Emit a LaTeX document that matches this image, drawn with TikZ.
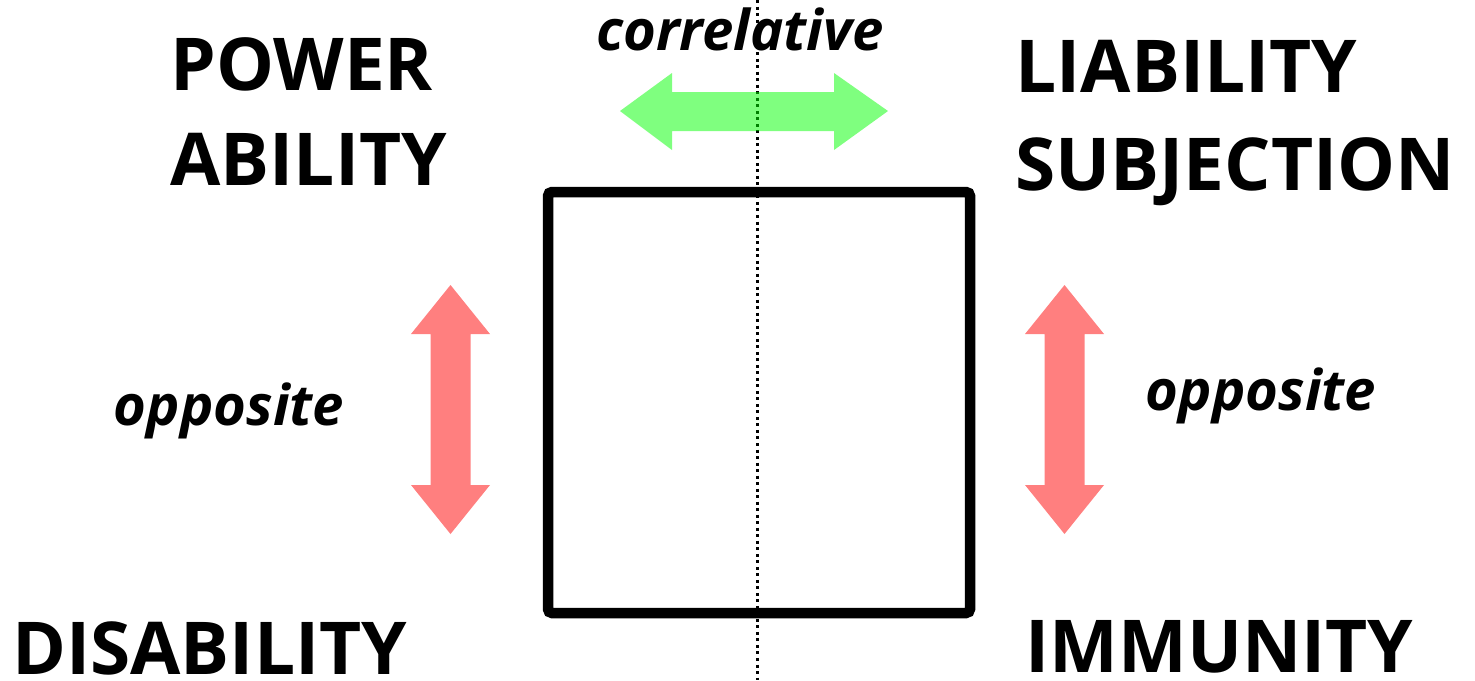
\documentclass[tikz,border=0pt]{standalone}
\usepackage{fontspec}
\setmainfont{Open Sans}
\begin{document}
\begin{tikzpicture}[x=0.2mm, y=-0.2mm,
  term/.style={font=\fontsize{41.5}{41.5}\selectfont\bfseries, anchor=base west, inner sep=0pt},
  relation/.style={font=\fontsize{32}{32}\selectfont\bfseries\itshape, anchor=base, inner sep=0pt},
  blockarrow/.style={fill=#1, fill opacity=0.5}]
\useasboundingbox (0,0) rectangle (1475,680);

% axis between the two columns
\coordinate (axistop) at (757,0);
\coordinate (axisbot) at (757,680);
\draw[dotted, line width=0.6mm] (axistop) -- (axisbot);

% the square
\draw[line width=2.1mm, rounded corners=0.8mm] (548,192) rectangle (970,613);

% terms
\node[term] (power) at (170,90) {POWER};
\node[term] (ability) at (170,185) {ABILITY};
\node[term] (liability) at (1015,92) {LIABILITY};
\node[term] (subjection) at (1015,190) {SUBJECTION};
\node[term] (disability) at (12,674) {DISABILITY};
\node[term] (immunity) at (1025,672) {IMMUNITY};

% relations
\node[relation] (correlative) at (740,50) {correlative};
\node[relation] (oppleft) at (229,425) {opposite};
\node[relation] (oppright) at (1261,410) {opposite};

% correlative arrow
\fill[blockarrow=green] (620,111) -- (672,73) -- (672,92) -- (834,92) -- (834,73)
  -- (888,111) -- (834,150) -- (834,131) -- (672,131) -- (672,150) -- cycle;

% opposite arrows
\foreach \x in {450.5, 1064.5}
  \fill[blockarrow=red] (\x,285) -- (\x+39.5,334) -- (\x+20,334) -- (\x+20,485)
    -- (\x+39.5,485) -- (\x,534) -- (\x-39.5,485) -- (\x-20,485) -- (\x-20,334)
    -- (\x-39.5,334) -- cycle;
\end{tikzpicture}
\end{document}
